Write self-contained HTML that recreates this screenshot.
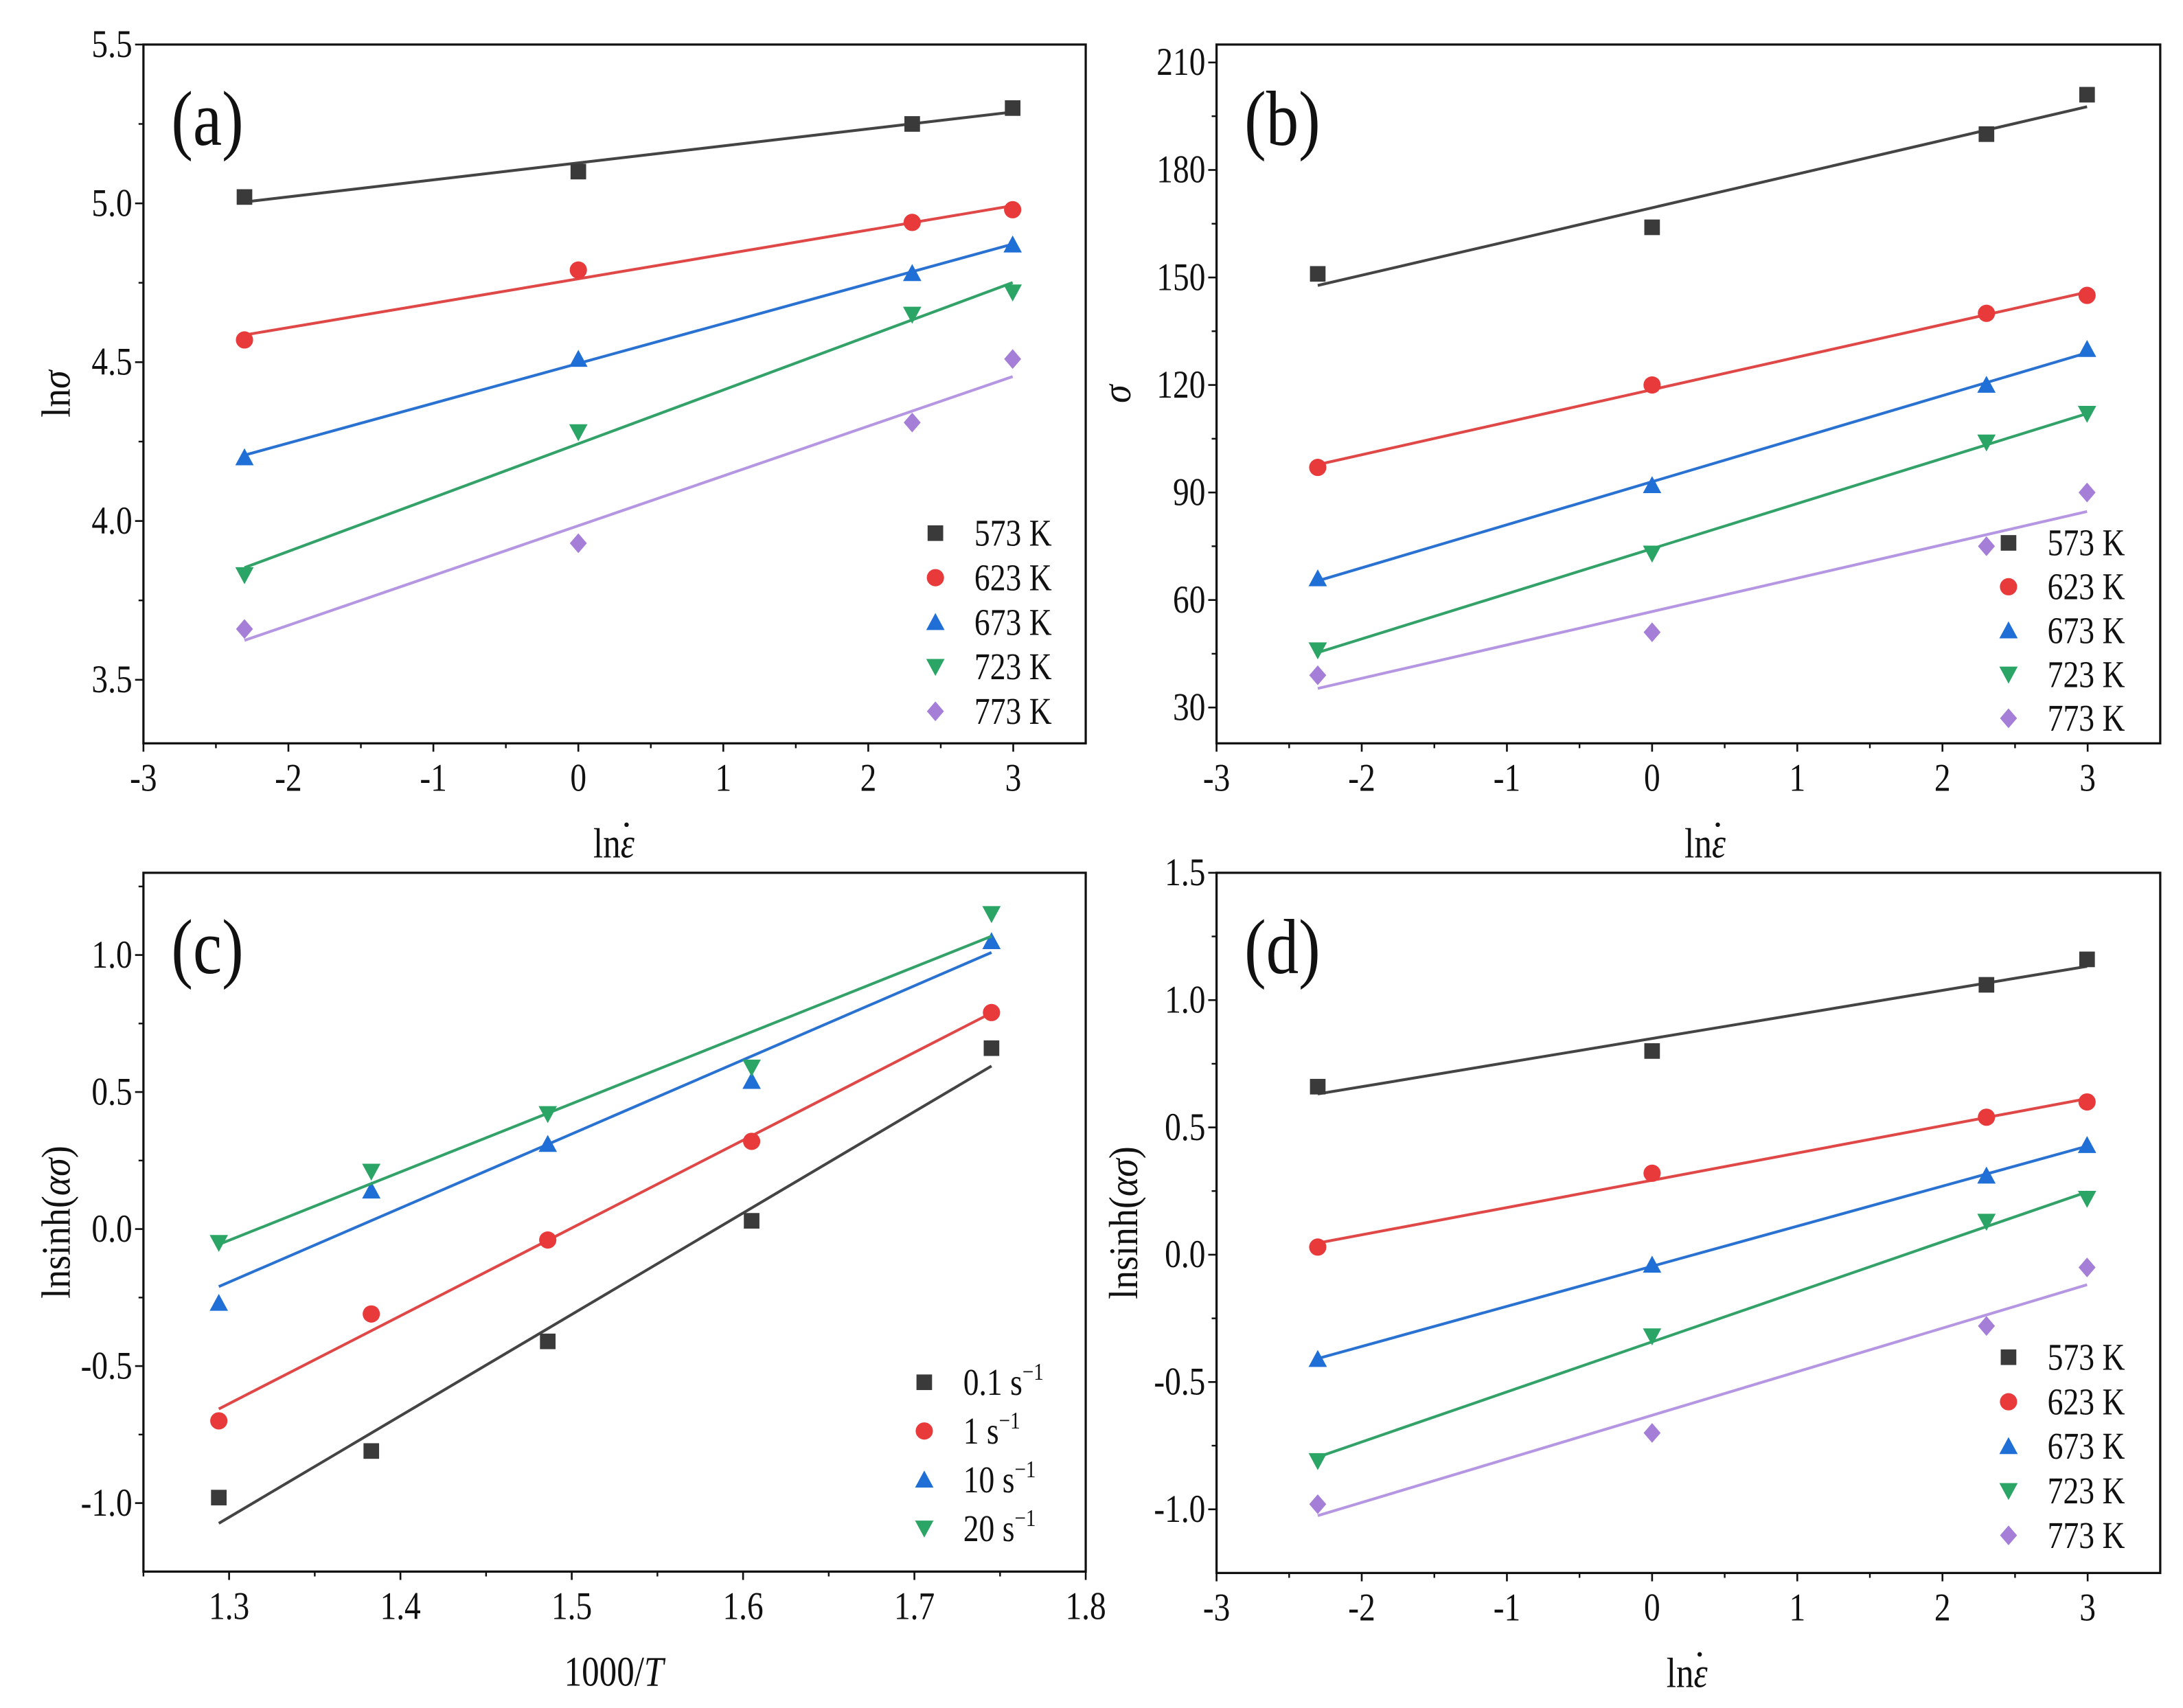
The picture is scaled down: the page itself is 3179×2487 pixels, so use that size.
<!DOCTYPE html>
<html><head><meta charset="utf-8">
<style>
html,body{margin:0;padding:0;background:#fff;}
svg{display:block;}
text{font-family:"Liberation Serif",serif;fill:#111;}
</style></head>
<body>
<svg id="fig" width="3179" height="2487" viewBox="0 0 1568.3 1227" xmlns="http://www.w3.org/2000/svg"></svg>
<script>
// ---- data ----
const strainX = [-2.303, 0, 2.303, 2.996];
const tempLabels = ["573 K","623 K","673 K","723 K","773 K"];
const aLn573 = [5.02, 5.10, 5.25, 5.30];
const aLn623 = [4.57, 4.79, 4.94, 4.98];
const aLn673 = [4.20, 4.51, 4.78, 4.87];
const aLn723 = [3.83, 4.28, 4.65, 4.72];
const aLn773 = [3.66, 3.93, 4.31, 4.51];
const bS573 = [151, 164, 190, 201];
const bS623 = [97, 120, 140, 145];
const bS673 = [66, 92, 120, 130];
const bS723 = [46, 73, 104, 112];
const bS773 = [39, 51, 75, 90];
const invT = [1.294, 1.383, 1.486, 1.605, 1.745];
const rateLabels = ["0.1","1","10","20"];
const cR01 = [-0.98, -0.81, -0.41, 0.03, 0.66];
const cR1 = [-0.70, -0.31, -0.04, 0.32, 0.79];
const cR10 = [-0.27, 0.14, 0.31, 0.54, 1.05];
const cR20 = [-0.05, 0.21, 0.42, 0.59, 1.15];
const dS573 = [0.66, 0.80, 1.06, 1.16];
const dS623 = [0.03, 0.32, 0.54, 0.60];
const dS673 = [-0.41, -0.04, 0.31, 0.43];
const dS723 = [-0.81, -0.32, 0.13, 0.22];
const dS773 = [-0.98, -0.70, -0.28, -0.05];
const xTicksStrain = [-3,-2,-1,0,1,2,3];
const xTicksT = [1.3,1.4,1.5,1.6,1.7,1.8];
const yTicksA = [3.5,4.0,4.5,5.0,5.5];
const yTicksB = [30,60,90,120,150,180,210];
const yTicksCD = [-1.0,-0.5,0.0,0.5,1.0,1.5];

const NS="http://www.w3.org/2000/svg";
const svg=document.getElementById('fig');
const markerCols=["#3a3a3a","#e83a3a","#1f6fd6","#2aa565","#a57ed8"];
const lineCols=["#444444","#e04848","#2a72d2","#33a268","#b596e2"];
const shapes=["square","circle","up","down","diamond"];
function el(tag,attrs,parent){const e=document.createElementNS(NS,tag);for(const k in attrs)e.setAttribute(k,attrs[k]);(parent||svg).appendChild(e);return e;}
function marker(g,shape,x,y,c){
  const s=5.6;let e;
  if(shape==="square")e=el('rect',{x:x-s,y:y-s,width:2*s,height:2*s,fill:c},g);
  else if(shape==="circle")e=el('circle',{cx:x,cy:y,r:s+0.6,fill:c},g);
  else if(shape==="up")e=el('polygon',{points:`${x},${y-s-1} ${x-s-1},${y+s} ${x+s+1},${y+s}`,fill:c},g);
  else if(shape==="down")e=el('polygon',{points:`${x},${y+s+1} ${x-s-1},${y-s} ${x+s+1},${y-s}`,fill:c},g);
  else e=el('polygon',{points:`${x},${y-s-1.5} ${x+s+0.5},${y} ${x},${y+s+1.5} ${x-s-0.5},${y}`,fill:c},g);
  return e;
}
function fit(xs,ys){const n=xs.length;let sx=0,sy=0,sxx=0,sxy=0;for(let i=0;i<n;i++){sx+=xs[i];sy+=ys[i];sxx+=xs[i]*xs[i];sxy+=xs[i]*ys[i];}const m=(n*sxy-sx*sy)/(n*sxx-sx*sx);return {m,b:(sy-m*sx)/n};}
function fmt(v,dec){return v<0?"-"+Math.abs(v).toFixed(dec):v.toFixed(dec);}
// condensed text helper (reference font is narrow/tall)
function ctext(g,x,y,size,anchor,str){
  const t=el('text',{x:0,y:0,"font-size":size,"text-anchor":anchor,transform:`translate(${x},${y}) scale(0.9,1.08)`},g);
  if(str!==undefined)t.textContent=str;return t;
}

function panel(o){
  const g=el('g',{});
  
  
  const X=v=>o.L+(v-o.x0)/(o.x1-o.x0)*(o.R-o.L);
  const Y=v=>o.B-(v-o.y0)/(o.y1-o.y0)*(o.B-o.T);
  const fr=el('rect',{x:o.L,y:o.T,width:o.R-o.L,height:o.B-o.T,fill:"none",stroke:"#111","stroke-width":1.6},g);
  
  
  o.xt.forEach((v,i)=>{const x=X(v);
    el('line',{x1:x,y1:o.B,x2:x,y2:o.B+6,stroke:"#111","stroke-width":1.3},g);
    const t=ctext(g,x,o.B+34,26,"middle",o.xdec===0?fmt(v,0):v.toFixed(o.xdec));
    
    
    if(i<o.xt.length-1){const mx=X(v+(o.xt[1]-o.xt[0])/2);if(mx<=o.R)el('line',{x1:mx,y1:o.B,x2:mx,y2:o.B+3.5,stroke:"#111","stroke-width":1.2},g);}
  });
  if(o.xminorStart!==undefined){const mx=X(o.xminorStart);el('line',{x1:mx,y1:o.B,x2:mx,y2:o.B+3.5,stroke:"#111","stroke-width":1.2},g);}
  o.yt.forEach((v,i)=>{const y=Y(v);
    el('line',{x1:o.L,y1:y,x2:o.L-6,y2:y,stroke:"#111","stroke-width":1.3},g);
    const t=ctext(g,o.L-8,y+9,26,"end",fmt(v,o.ydec));
    
    
  });
  const step=o.yt[1]-o.yt[0];
  for(let v=o.yt[0]-step/2;v<o.y1;v+=step){if(v>o.y0){const y=Y(v);el('line',{x1:o.L,y1:y,x2:o.L-3.5,y2:y,stroke:"#111","stroke-width":1.2},g);}}
  o.series.forEach((ys,si)=>{
    const f=fit(o.xs,ys);const xa=o.xs[0],xb=o.xs[o.xs.length-1];
    const ln=el('line',{x1:X(xa),y1:Y(f.m*xa+f.b),x2:X(xb),y2:Y(f.m*xb+f.b),stroke:lineCols[si],"stroke-width":2},g);
    
    
    ys.forEach((v,i)=>{const m=marker(g,shapes[si],X(o.xs[i]),Y(v),markerCols[si]);
      
      });
  });
  o.legend.forEach((lab,i)=>{const y=o.legY+i*o.legDy;
    const m=marker(g,shapes[i],o.legX,y,markerCols[i]);
    
    
    const t=ctext(g,o.legX+28,y+9,25,"start");
    
    
    if(o.rate){t.textContent=lab+" s";const ts=el('tspan',{dy:-10,"font-size":16},t);ts.textContent="−1";}
    else t.textContent=lab;
  });
  const pl=ctext(g,o.L+20,o.T+72,52,"start",o.tag);
  
  
  const xt=ctext(g,o.xtX,o.B+82,28,"middle");
  
  
  if(o.xtitle==="strain"){xt.textContent="ln";const s=el('tspan',{"font-style":"italic"},xt);s.textContent="ε";
    const bb=xt.getBBox();const d=el('circle',{cx:o.xtX+(bb.x+bb.width)*0.9-6,cy:o.B+82-19*1.08-3,r:1.6,fill:"#111"},g);
    
    }
  else{xt.textContent="1000/";const s=el('tspan',{"font-style":"italic"},xt);s.textContent="T";}
  const yt=el('text',{x:0,y:0,"font-size":28,"text-anchor":"middle",transform:`translate(${o.ytX},${(o.T+o.B)/2}) rotate(-90) scale(0.95,1.05)`},g);
  
  
  if(o.ytitle==="lns"){yt.textContent="ln";const s=el('tspan',{"font-style":"italic"},yt);s.textContent="σ";}
  else if(o.ytitle==="s"){const s=el('tspan',{"font-style":"italic"},yt);s.textContent="σ";}
  else{yt.textContent="lnsinh(";const s=el('tspan',{"font-style":"italic"},yt);s.textContent="ασ";const e=el('tspan',{},yt);e.textContent=")";}
}

panel({name:"panel-a",tag:"(a)",L:103,R:780,T:32,B:534,x0:-3,x1:3.5,y0:3.3,y1:5.5,xt:xTicksStrain,xdec:0,yt:yTicksA,ydec:1,
  xs:strainX,series:[aLn573,aLn623,aLn673,aLn723,aLn773],legend:tempLabels,legX:672,legY:383,legDy:32,xtitle:"strain",ytitle:"lns",xtX:441,ytX:50});
panel({name:"panel-b",tag:"(b)",L:874,R:1552,T:32,B:534,x0:-3,x1:3.5,y0:20,y1:215,xt:xTicksStrain,xdec:0,yt:yTicksB,ydec:0,
  xs:strainX,series:[bS573,bS623,bS673,bS723,bS773],legend:tempLabels,legX:1443,legY:390,legDy:31.5,xtitle:"strain",ytitle:"s",xtX:1225,ytX:812});
panel({name:"panel-c",tag:"(c)",L:103,R:780,T:627,B:1129,x0:1.25,x1:1.8,y0:-1.25,y1:1.3,xt:xTicksT,xdec:1,yt:yTicksCD.slice(0,5),ydec:1,xminorStart:1.25,
  xs:invT,series:[cR01,cR1,cR10,cR20],legend:rateLabels,rate:true,legX:664,legY:993,legDy:35,xtitle:"T",ytitle:"sinh",xtX:441,ytX:50});
panel({name:"panel-d",tag:"(d)",L:874,R:1552,T:627,B:1130,x0:-3,x1:3.5,y0:-1.25,y1:1.5,xt:xTicksStrain,xdec:0,yt:yTicksCD,ydec:1,
  xs:strainX,series:[dS573,dS623,dS673,dS723,dS773],legend:tempLabels,legX:1443,legY:975,legDy:32,xtitle:"strain",ytitle:"sinh",xtX:1212,ytX:817});
</script>
</body></html>
